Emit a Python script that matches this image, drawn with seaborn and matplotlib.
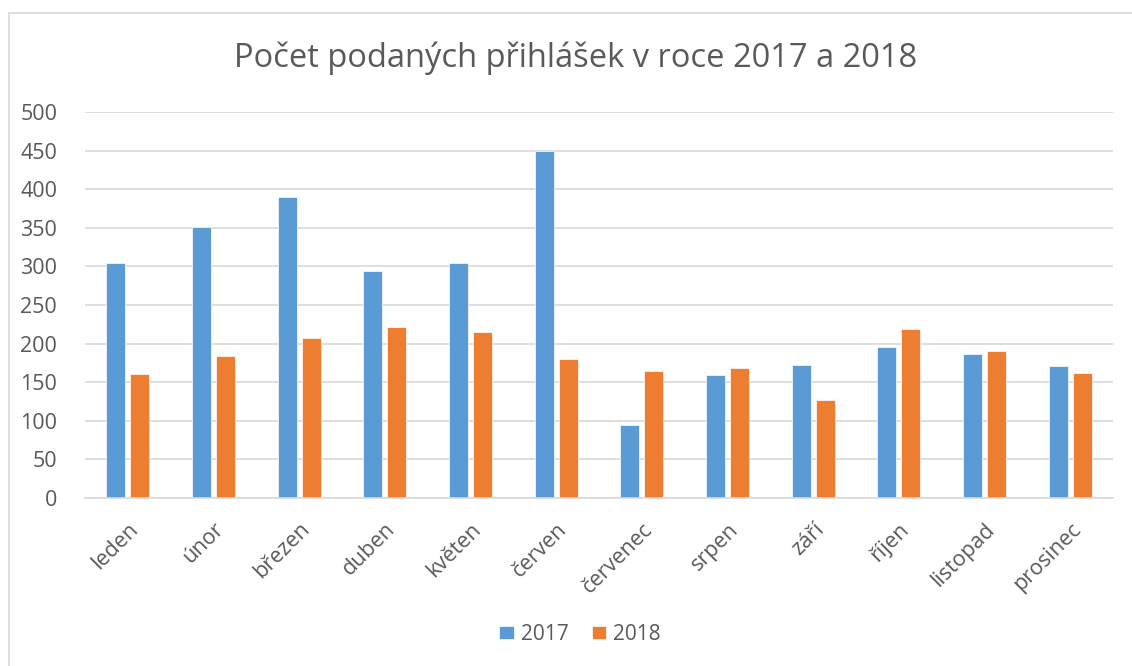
# plot.py
# Bar chart: pocet podanych prihlasek 2017 vs 2018 (seaborn re-draw of an Excel chart)

import pandas as pd
import seaborn as sns
import matplotlib.pyplot as plt
from matplotlib.patches import Rectangle

months = ["leden", "únor", "březen", "duben", "květen", "červen",
          "červenec", "srpen", "září", "říjen", "listopad", "prosinec"]
years = ["2017", "2018"]
values_2017 = [304, 351, 390, 294, 305, 449, 94, 159, 172, 196, 187, 171]
values_2018 = [161, 184, 207, 222, 215, 180, 164, 168, 127, 219, 190, 162]

colors = {"2017": "#5B9BD5", "2018": "#ED7D31"}
text_color = "#595959"
grid_color = "#D9D9D9"

df = pd.DataFrame({
    "mesic": months * 2,
    "rok": [years[0]] * len(months) + [years[1]] * len(months),
    "pocet": values_2017 + values_2018,
})

sns.set_theme(style="white")
plt.rcParams["font.family"] = ["Open Sans", "DejaVu Sans"]

fig = plt.figure(figsize=(11.32, 6.66), dpi=100)
ax = fig.add_axes([85 / 1132, 1 - 498 / 666, (1113 - 85) / 1132, (498 - 112) / 666])

sns.barplot(data=df, x="mesic", y="pocet", hue="rok", order=months,
            hue_order=years, palette=colors, saturation=1, width=0.56, gap=0.21,
            edgecolor="white", linewidth=0.5, ax=ax, legend=True)

ax.set_ylim(0, 500)
ax.set_xlim(-0.5, len(months) - 0.5)
ax.set_yticks(range(0, 501, 50))
ax.set_xlabel("")
ax.set_ylabel("")
ax.yaxis.grid(True, color=grid_color, linewidth=1.2)
ax.set_axisbelow(True)
for side in ["left", "right", "top"]:
    ax.spines[side].set_visible(False)
ax.spines["bottom"].set_color(grid_color)
ax.spines["bottom"].set_linewidth(1.2)

ax.tick_params(axis="y", length=0, pad=20, labelsize=15.5, labelcolor=text_color)
ax.tick_params(axis="x", length=0, pad=15, labelsize=15.5, labelcolor=text_color)
plt.setp(ax.get_xticklabels(), rotation=45, ha="right", rotation_mode="anchor")

# legend at the bottom
handles, labels = ax.get_legend_handles_labels()
ax.legend_.remove()
fig.legend(handles, labels, loc="center", bbox_to_anchor=(580 / 1132, 1 - 634 / 666),
           ncol=2, frameon=False, fontsize=15, labelcolor=text_color,
           handlelength=0.7, handleheight=0.6, handletextpad=0.35, columnspacing=1.1)

fig.text(576 / 1132, 1 - 58 / 666, "Počet podaných přihlášek v roce 2017 a 2018",
         ha="center", va="center", fontsize=23.5, color=text_color)

# thin chart-area border like in Excel
fig.patches.append(Rectangle((8.5 / 1132, -0.05), 1.1, 1.05 - 13 / 666,
                             transform=fig.transFigure, fill=False,
                             edgecolor=grid_color, linewidth=1.2))

fig.savefig("out.png", dpi=100)
plt.close(fig)
